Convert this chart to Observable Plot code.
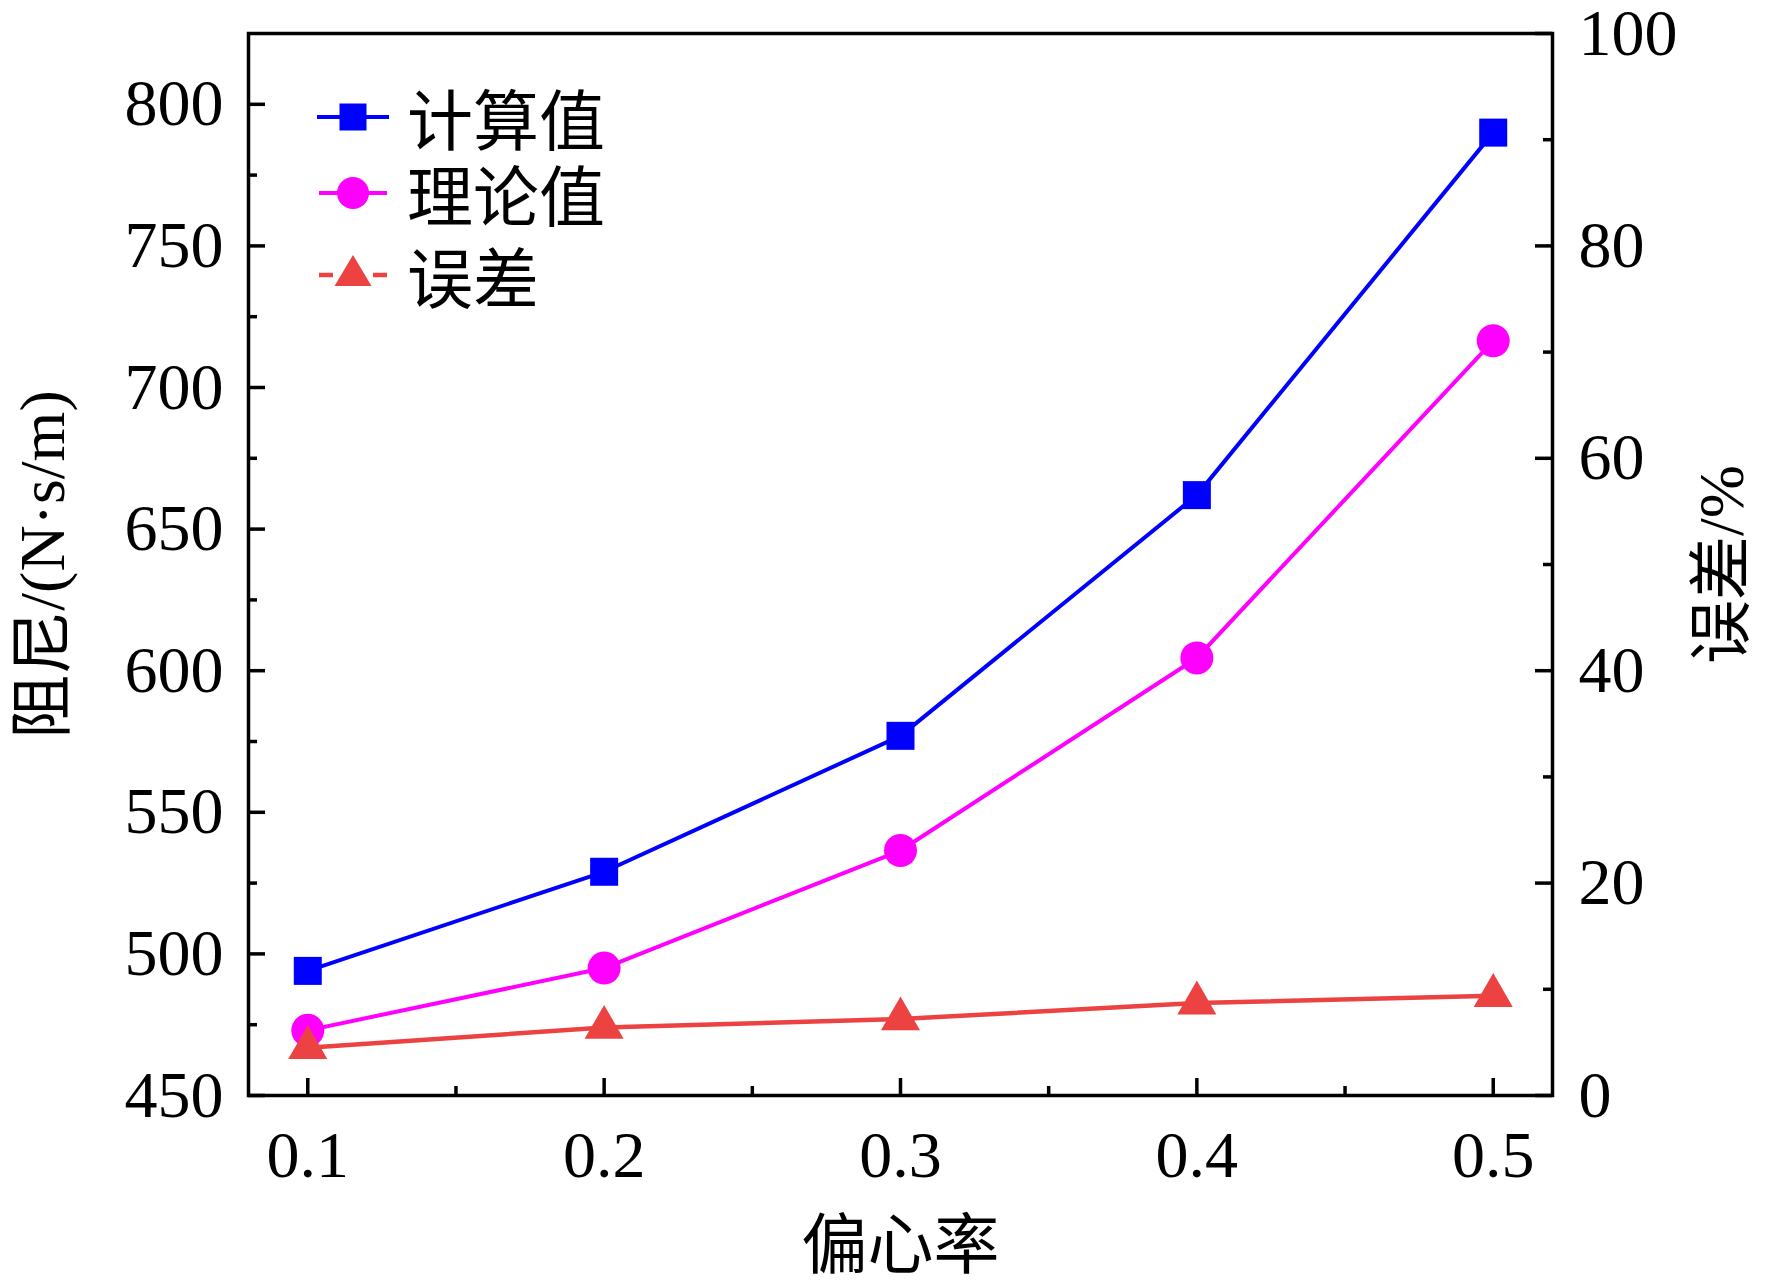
<!DOCTYPE html>
<html><head><meta charset="utf-8">
<script src="https://cdn.jsdelivr.net/npm/d3@7"></script>
<script src="https://cdn.jsdelivr.net/npm/@observablehq/plot@0.6"></script>
<style>
body{margin:0;background:#fff;}
#wrap{position:relative;width:1772px;height:1286px;background:#fff;}
#legend{position:absolute;left:0;top:0;}
</style></head><body><div id="wrap"></div>
<script>
// ---- data ----
const eccentricity = [0.1, 0.2, 0.3, 0.4, 0.5];
const computed = [494, 529, 577, 662, 790];          // 计算值
const theoretical = [473, 495, 536.5, 604.5, 716.5]; // 理论值
const errorPct = [4.5, 6.4, 7.2, 8.7, 9.4];          // 误差 (%)
const xTicks = [0.1, 0.2, 0.3, 0.4, 0.5];
const xMinor = [0.15, 0.25, 0.35, 0.45];
const leftTicks = [450, 500, 550, 600, 650, 700, 750, 800];
const leftMinor = [475, 525, 575, 625, 675, 725, 775];
const rightTicks = [0, 20, 40, 60, 80, 100];
const rightMinor = [10, 30, 50, 70, 90];
const xDomain = [0.08, 0.52];
const yDomain = [450, 825];
const rDomain = [0, 100];
const seriesNames = ["计算值", "理论值", "误差"];
const seriesColors = ["#0000ff", "#ff00ff", "#ec4242"];

// map right-axis value into left-axis units (shared y scale)
const toLeft = v => yDomain[0] + (v - rDomain[0]) * (yDomain[1] - yDomain[0]) / (rDomain[1] - rDomain[0]);
const fromLeft = y => rDomain[0] + (y - yDomain[0]) * (rDomain[1] - rDomain[0]) / (yDomain[1] - yDomain[0]);

const rows = eccentricity.map((e, i) => ({e, c: computed[i], t: theoretical[i], err: errorPct[i]}));

const W = 1772, H = 1286, ML = 248, MR = 220, MT = 33, MB = 191;
const FW = W - ML - MR, FH = H - MT - MB;
const SERIF = '"Liberation Serif","Times New Roman","Noto Sans CJK SC",serif';
const CJK = '"Noto Sans CJK SC","Liberation Serif",sans-serif';
const MAJ = 17, MIN = 9;
const FS = 66;

const plot = Plot.plot({
  width: W, height: H,
  marginLeft: ML, marginRight: MR, marginTop: MT, marginBottom: MB,
  style: {fontFamily: SERIF, fontSize: FS + "px", background: "white", color: "black"},
  x: {domain: xDomain},
  y: {domain: yDomain},
  marks: [
    // tick labels
    Plot.axisX(xTicks, {tickSize: 0, tickPadding: 35, tickFormat: d => d.toFixed(1), label: null, fontSize: FS}),
    Plot.axisY(leftTicks, {anchor: "left", tickSize: 0, tickPadding: 25, label: null, fontSize: FS}),
    Plot.axisY(rightTicks.map(toLeft), {anchor: "right", tickSize: 0, tickPadding: 26, label: null, fontSize: FS,
      tickFormat: d => String(Math.round(fromLeft(d)))}),
    // inward ticks
    Plot.tickY(leftTicks, {y: d => d, insetRight: FW - MAJ, stroke: "black", strokeWidth: 3.5}),
    Plot.tickY(leftMinor, {y: d => d, insetRight: FW - MIN, stroke: "black", strokeWidth: 3.5}),
    Plot.tickY(rightTicks.map(toLeft), {y: d => d, insetLeft: FW - MAJ, stroke: "black", strokeWidth: 3.5}),
    Plot.tickY(rightMinor.map(toLeft), {y: d => d, insetLeft: FW - MIN, stroke: "black", strokeWidth: 3.5}),
    Plot.tickX(xTicks, {x: d => d, insetTop: FH - MAJ, stroke: "black", strokeWidth: 3.5}),
    Plot.tickX(xMinor, {x: d => d, insetTop: FH - MIN, stroke: "black", strokeWidth: 3.5}),
    // axis titles
    Plot.text(["阻尼/(N·s/m)"], {frameAnchor: "left", rotate: -90, dx: -205, fontSize: 64, fontFamily: SERIF, lineAnchor: "middle", textAnchor: "middle"}),
    Plot.text(["误差/%"], {frameAnchor: "right", rotate: -90, dx: 170, fontSize: 64, fontFamily: SERIF, lineAnchor: "middle", textAnchor: "middle"}),
    Plot.text(["偏心率"], {frameAnchor: "bottom", dy: 151, fontSize: 66, fontFamily: SERIF, lineAnchor: "middle", textAnchor: "middle"}),
    // series
    Plot.line(rows, {x: "e", y: "c", stroke: seriesColors[0], strokeWidth: 4}),
    Plot.dot(rows, {x: "e", y: "c", symbol: "square", r: 15.8, fill: seriesColors[0], stroke: "none"}),
    Plot.line(rows, {x: "e", y: "t", stroke: seriesColors[1], strokeWidth: 4}),
    Plot.dot(rows, {x: "e", y: "t", symbol: "circle", r: 16.5, fill: seriesColors[1], stroke: "none"}),
    Plot.line(rows, {x: "e", y: d => toLeft(d.err), stroke: seriesColors[2], strokeWidth: 4.5}),
    Plot.dot(rows, {x: "e", y: d => toLeft(d.err), symbol: "triangle", r: 14.5, fill: seriesColors[2], stroke: "none"}),
    Plot.frame({stroke: "black", strokeWidth: 3.5})
  ]
});

const wrap = document.getElementById("wrap");
wrap.appendChild(plot);

// legend overlay (inside plot area, top-left)
const ns = "http://www.w3.org/2000/svg";
const lg = document.createElementNS(ns, "svg");
lg.setAttribute("id", "legend");
lg.setAttribute("width", 700);
lg.setAttribute("height", 330);
const rowY = [117, 193, 275];
function el(tag, attrs) { const e = document.createElementNS(ns, tag); for (const k in attrs) e.setAttribute(k, attrs[k]); lg.appendChild(e); return e; }
// row 1
el("line", {x1: 317, x2: 389, y1: rowY[0], y2: rowY[0], stroke: seriesColors[0], "stroke-width": 4});
el("rect", {x: 353 - 13.5, y: rowY[0] - 13.5, width: 27, height: 27, fill: seriesColors[0]});
// row 2
el("line", {x1: 319, x2: 387, y1: rowY[1], y2: rowY[1], stroke: seriesColors[1], "stroke-width": 4});
el("circle", {cx: 353, cy: rowY[1], r: 16, fill: seriesColors[1]});
// row 3
el("line", {x1: 319, x2: 333, y1: rowY[2], y2: rowY[2], stroke: seriesColors[2], "stroke-width": 4.5});
el("line", {x1: 373, x2: 387, y1: rowY[2], y2: rowY[2], stroke: seriesColors[2], "stroke-width": 4.5});
el("path", {d: `M353,${rowY[2] - 20}L${353 + 18.5},${rowY[2] + 11}L${353 - 18.5},${rowY[2] + 11}Z`, fill: seriesColors[2]});
seriesNames.forEach((n, i) => {
  const t = el("text", {x: 407, y: rowY[i] - 1, "dominant-baseline": "central", "font-size": 66, "font-family": CJK, fill: "black"});
  t.textContent = n;
});
wrap.appendChild(lg);
</script>
</body></html>
